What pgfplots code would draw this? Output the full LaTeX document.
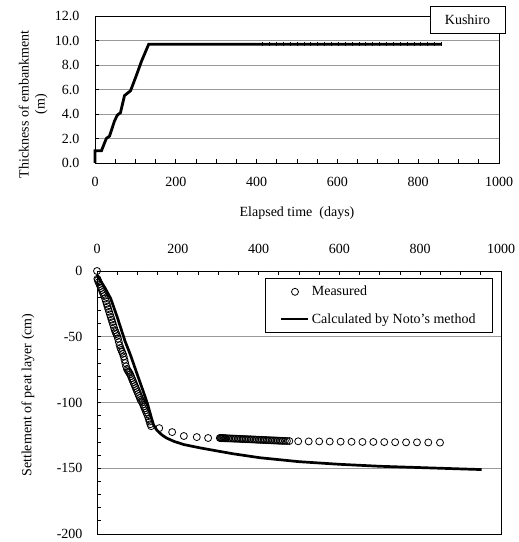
\documentclass[border=0pt]{standalone}
\usepackage{fontspec}
\setmainfont{Liberation Serif}
\usepackage{pgfplots}
\pgfplotsset{compat=1.18}
\usepackage{pgfplotstable}

% embankment thickness (m) vs elapsed time (days)
\pgfplotstableread{
day thick
0 0
0 1.0
16 1.0
28 2.0
36 2.2
48 3.4
55 3.9
63 4.1
73 5.5
88 5.9
103 7.2
115 8.3
133 9.7
858 9.7
}\embank

\pgfplotstableread{
day thick
415 9.7
432 9.7
449 9.7
466 9.7
483 9.7
500 9.7
517 9.7
534 9.7
551 9.7
568 9.7
585 9.7
602 9.7
619 9.7
636 9.7
653 9.7
670 9.7
687 9.7
704 9.7
721 9.7
738 9.7
755 9.7
772 9.7
789 9.7
806 9.7
823 9.7
840 9.7
857 9.7
}\embankmarks

% measured settlement (cm)
\pgfplotstableread{
day s
0 0
1 -6
2 -7
4 -8.5
6 -10
8 -11.5
10 -13
12 -14.5
14 -16
16 -17.5
18 -19
20 -21
22 -23
24 -25
26 -27
28 -29
30 -31
32 -33
34 -35
36 -37
38 -39
40 -41
42 -43
44 -45
46 -46.5
48 -48
50 -49.5
52 -51.5
54 -54
56 -56.5
58 -58.5
60 -60
62 -61.5
64 -63
66 -65
68 -67.5
70 -70
72 -72.5
74 -74.5
76 -75.5
78 -76.5
80 -77.5
82 -78.5
84 -80
86 -81.5
88 -83
90 -84.5
92 -86
94 -87.5
96 -89
98 -90.5
100 -92
102 -93.5
104 -95
106 -96.5
108 -98
110 -99
112 -100
114 -101.5
116 -103
118 -104.5
120 -106
122 -107.5
124 -109
126 -110.5
128 -112.5
130 -114.5
132 -116.5
134 -118
154 -119.5
186 -122.5
215 -125.5
247 -126.3
275 -127
304 -127.0
306 -127.0
308 -127.1
310 -127.1
312 -127.1
314 -127.1
316 -127.2
318 -127.2
320 -127.2
324 -127.3
328 -127.3
332 -127.4
336 -127.4
340 -127.5
344 -127.5
348 -127.6
352 -127.6
356 -127.7
360 -127.8
364 -127.8
368 -127.9
372 -127.9
376 -128.0
380 -128.0
384 -128.1
388 -128.1
392 -128.2
396 -128.3
400 -128.3
404 -128.4
408 -128.4
412 -128.5
416 -128.5
420 -128.6
424 -128.7
428 -128.7
432 -128.8
436 -128.8
440 -128.9
444 -128.9
448 -129.0
452 -129.1
456 -129.1
460 -129.2
465 -129.2
470 -129.3
476 -129.3
498 -129.5
524 -129.6
550 -129.6
576 -129.7
603 -129.8
630 -129.9
657 -130.0
684 -130.0
711 -130.1
738 -130.2
765 -130.3
792 -130.3
820 -130.4
849 -130.5
}\measured

% calculated by Noto's method
\pgfplotstableread{
day s
0 -3
10 -8
20 -13
34 -21
50 -35
69 -53
83 -64
100 -79
115 -92
125 -101
135 -112
140 -117
148 -121
160 -124.5
172 -127
190 -129.5
215 -132
255 -134.5
300 -137
337 -139
403 -142
500 -145
600 -147
700 -148.5
800 -149.5
900 -150.5
952 -151
}\calc

\pgfplotsset{
  every axis/.append style={
    scale only axis,
    font=\fontsize{14bp}{16bp}\selectfont,
    tick label style={font=\fontsize{14bp}{16bp}\selectfont},
    label style={font=\fontsize{14bp}{16bp}\selectfont},
    axis line style={black, line width=0.8pt},
    tick style={black, line width=0.8pt},
    major tick length=4bp,
    minor tick length=4bp,
    tick align=inside,
    grid style={gray!80, line width=0.8pt},
  },
}

\begin{document}
\begin{tikzpicture}[x=1bp, y=1bp]
\path[use as bounding box] (0,0) rectangle (519,542);

\begin{axis}[
  at={(95bp,379bp)}, anchor=south west,
  width=404bp, height=147bp,
  xmin=0, xmax=1000, ymin=0, ymax=12,
  xtick={0,200,...,1000},
  minor x tick num=3,
  xtick pos=left, ytick pos=left,
  ytick={0,2,...,12},
  yticklabels={0.0,2.0,4.0,6.0,8.0,10.0,12.0},
  xticklabels={0,200,400,600,800,1000},
  xticklabel style={yshift=-11bp},
  yticklabel style={xshift=-12bp},
  ymajorgrids,
  xlabel={Elapsed time\ \ (days)},
  xlabel style={at={(axis description cs:0.5,-0.34)}, anchor=center},
  ylabel={Thickness of embankment\\(m)},
  ylabel style={align=center, at={(axis description cs:-0.153,0.40)}, anchor=center, rotate=0},
  clip=false,
]
\addplot[black, line width=2.8bp] table[x=day, y=thick] {\embank};
\addplot[only marks, mark=|, mark size=1.9bp, mark options={line width=0.5bp, black}] table[x=day, y=thick] {\embankmarks};
\node[draw=black, line width=0.8pt, fill=white, minimum width=75bp, minimum height=27bp, inner sep=0pt]
  at (rel axis cs:0.922,0.973) {Kushiro};
\end{axis}

\begin{axis}[
  at={(97bp,8bp)}, anchor=south west,
  width=404bp, height=263bp,
  xmin=0, xmax=1000, ymin=-200, ymax=0,
  xtick={0,200,...,1000},
  xticklabels={0,200,400,600,800,1000},
  minor x tick num=3,
  xtick pos=right, xticklabel pos=right,
  xticklabel style={yshift=14bp},
  ytick={-200,-150,...,0},
  yticklabels={-200,-150,-100,-50,0},
  yticklabel style={xshift=-11bp},
  minor y tick num=4,
  ytick pos=left,
  ymajorgrids,
  ylabel={Settlement of peat layer (cm)},
  ylabel style={at={(axis description cs:-0.171,0.528)}, anchor=center},
  clip=false,
  legend style={at={(axis description cs:0.980,0.974)}, anchor=north east,
    draw=black, line width=0.8pt, inner xsep=15bp, inner ysep=6bp, row sep=12bp,
    font=\fontsize{14bp}{16bp}\selectfont},
  legend cell align=left,
  legend image code/.code={\draw[mark repeat=2, mark phase=2, #1] plot coordinates {(0bp,0bp) (13.5bp,0bp) (27bp,0bp)};},
]
\addplot[only marks, mark=o, mark size=3.5bp, mark options={black, fill=white, line width=0.8pt}] table[x=day, y=s] {\measured};
\addplot[black, line width=2.7bp] table[x=day, y=s] {\calc};
\legend{Measured, Calculated by Noto's method}
\end{axis}
\end{tikzpicture}
\end{document}
